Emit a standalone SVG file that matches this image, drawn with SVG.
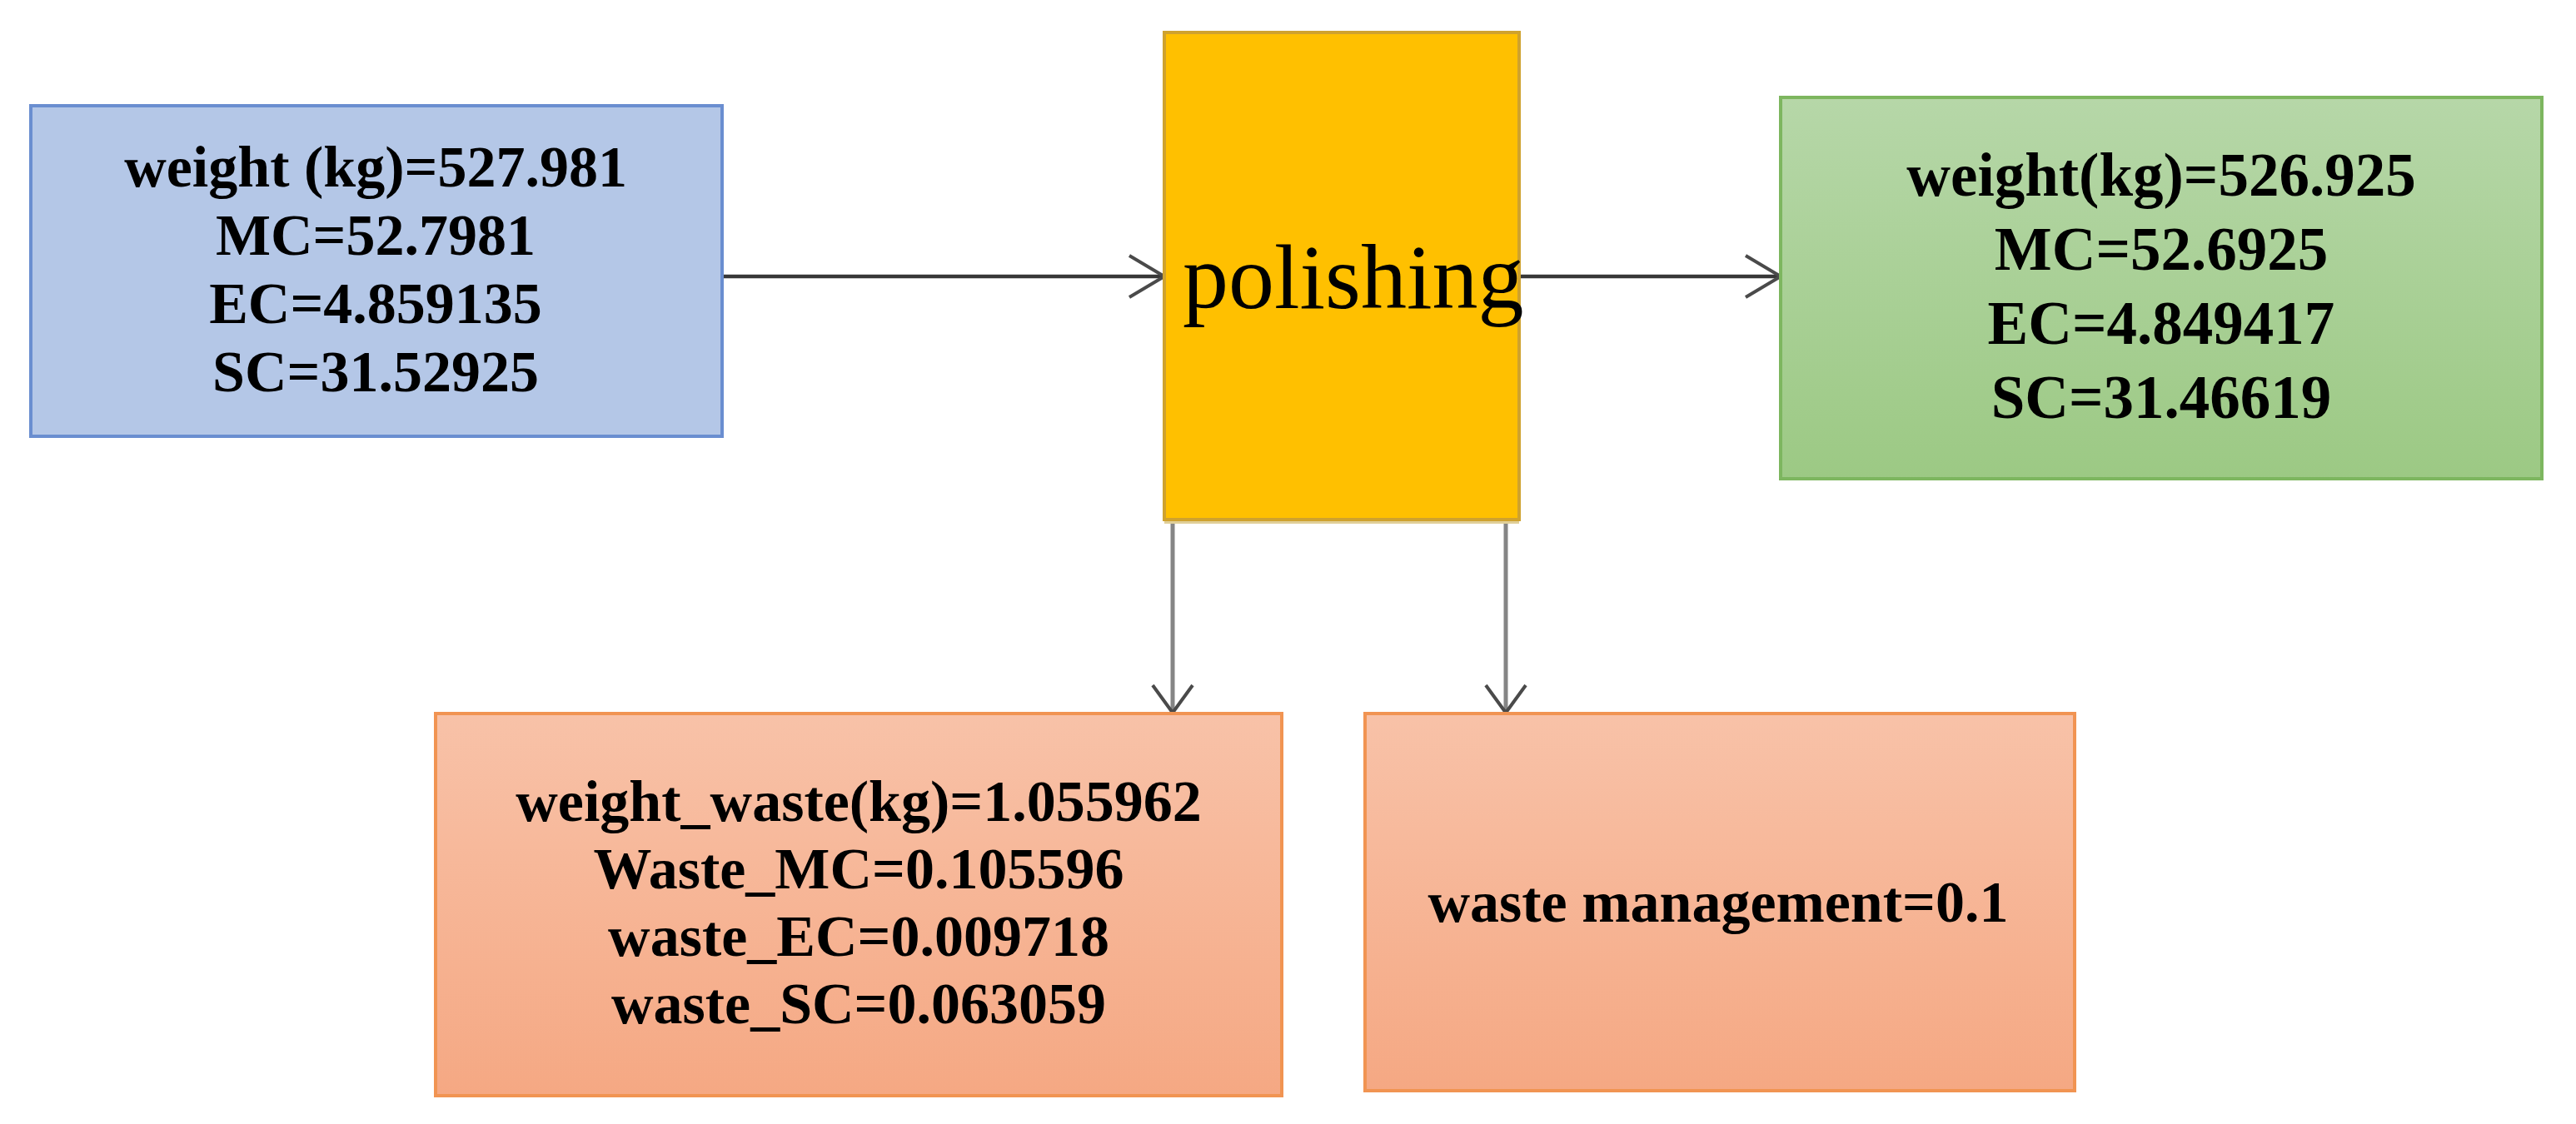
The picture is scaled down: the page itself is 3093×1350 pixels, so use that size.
<svg xmlns="http://www.w3.org/2000/svg" width="3093" height="1350" viewBox="0 0 3093 1350">
<defs>
<style>
.t{font-family:"Liberation Serif","Times New Roman",serif;font-weight:bold;fill:#000;text-anchor:middle}
.h{stroke:#383838;stroke-width:4.5;fill:none}
.v{stroke:#858585;stroke-width:5;fill:none}
</style>
<linearGradient id="gGreen" x1="0" y1="0" x2="0" y2="1">
<stop offset="0" stop-color="#B6D7A8"/>
<stop offset="1" stop-color="#9CC984"/>
</linearGradient>
<linearGradient id="gOrange" x1="0" y1="0" x2="0" y2="1">
<stop offset="0" stop-color="#F8C2A8"/>
<stop offset="1" stop-color="#F5A883"/>
</linearGradient>
<marker id="chev" markerUnits="userSpaceOnUse" markerWidth="52" markerHeight="60" viewBox="0 0 52 60" refX="46" refY="30" orient="auto">
<path d="M4,5 L46,30 L4,55" fill="none" stroke="#4a4a4a" stroke-width="4"/>
</marker>
<marker id="chevS" markerUnits="userSpaceOnUse" markerWidth="44" markerHeight="56" viewBox="0 0 44 56" refX="38" refY="28" orient="auto">
<path d="M5,4 L38,28 L5,52" fill="none" stroke="#4a4a4a" stroke-width="4"/>
</marker>
</defs>
<rect width="3093" height="1350" fill="#ffffff"/>

<g id="connectors">
<line class="h" x1="867" y1="332" x2="1398" y2="332" marker-end="url(#chev)"/>
<line class="h" x1="1824" y1="332" x2="2138" y2="332" marker-end="url(#chev)"/>
<line class="v" x1="1408" y1="626" x2="1408" y2="856" marker-end="url(#chevS)"/>
<line class="v" x1="1808" y1="626" x2="1808" y2="856" marker-end="url(#chevS)"/>
</g>

<g id="input">
<rect x="37" y="127" width="830" height="397" fill="#B4C7E7" stroke="#6A8ED0" stroke-width="4"/>
<text class="t" font-size="70" x="451" y="224">weight (kg)=527.981</text>
<text class="t" font-size="70" x="451" y="306">MC=52.7981</text>
<text class="t" font-size="70" x="451" y="388">EC=4.859135</text>
<text class="t" font-size="70" x="451" y="470">SC=31.52925</text>
</g>

<g id="polishing">
<rect x="1398" y="624" width="426" height="5" fill="#E0CF98"/>
<rect x="1398" y="39" width="426" height="585" fill="#FFC000" stroke="#CFA22E" stroke-width="4"/>
<text x="1420" y="370" font-family="Liberation Serif, Times New Roman, serif" font-size="110" fill="#000">polishing</text>
</g>

<g id="output">
<rect x="2138" y="117" width="914" height="458" fill="url(#gGreen)" stroke="#7DB65F" stroke-width="4"/>
<text class="t" font-size="73" x="2595" y="235">weight(kg)=526.925</text>
<text class="t" font-size="73" x="2595" y="324">MC=52.6925</text>
<text class="t" font-size="73" x="2595" y="413">EC=4.849417</text>
<text class="t" font-size="73" x="2595" y="502">SC=31.46619</text>
</g>

<g id="waste">
<rect x="523" y="857" width="1016" height="459" fill="url(#gOrange)" stroke="#F19452" stroke-width="4"/>
<text class="t" font-size="70" x="1031" y="986">weight_waste(kg)=1.055962</text>
<text class="t" font-size="70" x="1031" y="1067">Waste_MC=0.105596</text>
<text class="t" font-size="70" x="1031" y="1148">waste_EC=0.009718</text>
<text class="t" font-size="70" x="1031" y="1229">waste_SC=0.063059</text>
</g>

<g id="waste-management">
<rect x="1639" y="857" width="852" height="453" fill="url(#gOrange)" stroke="#F19452" stroke-width="4"/>
<text class="t" font-size="70" x="2063" y="1107">waste management=0.1</text>
</g>
</svg>
